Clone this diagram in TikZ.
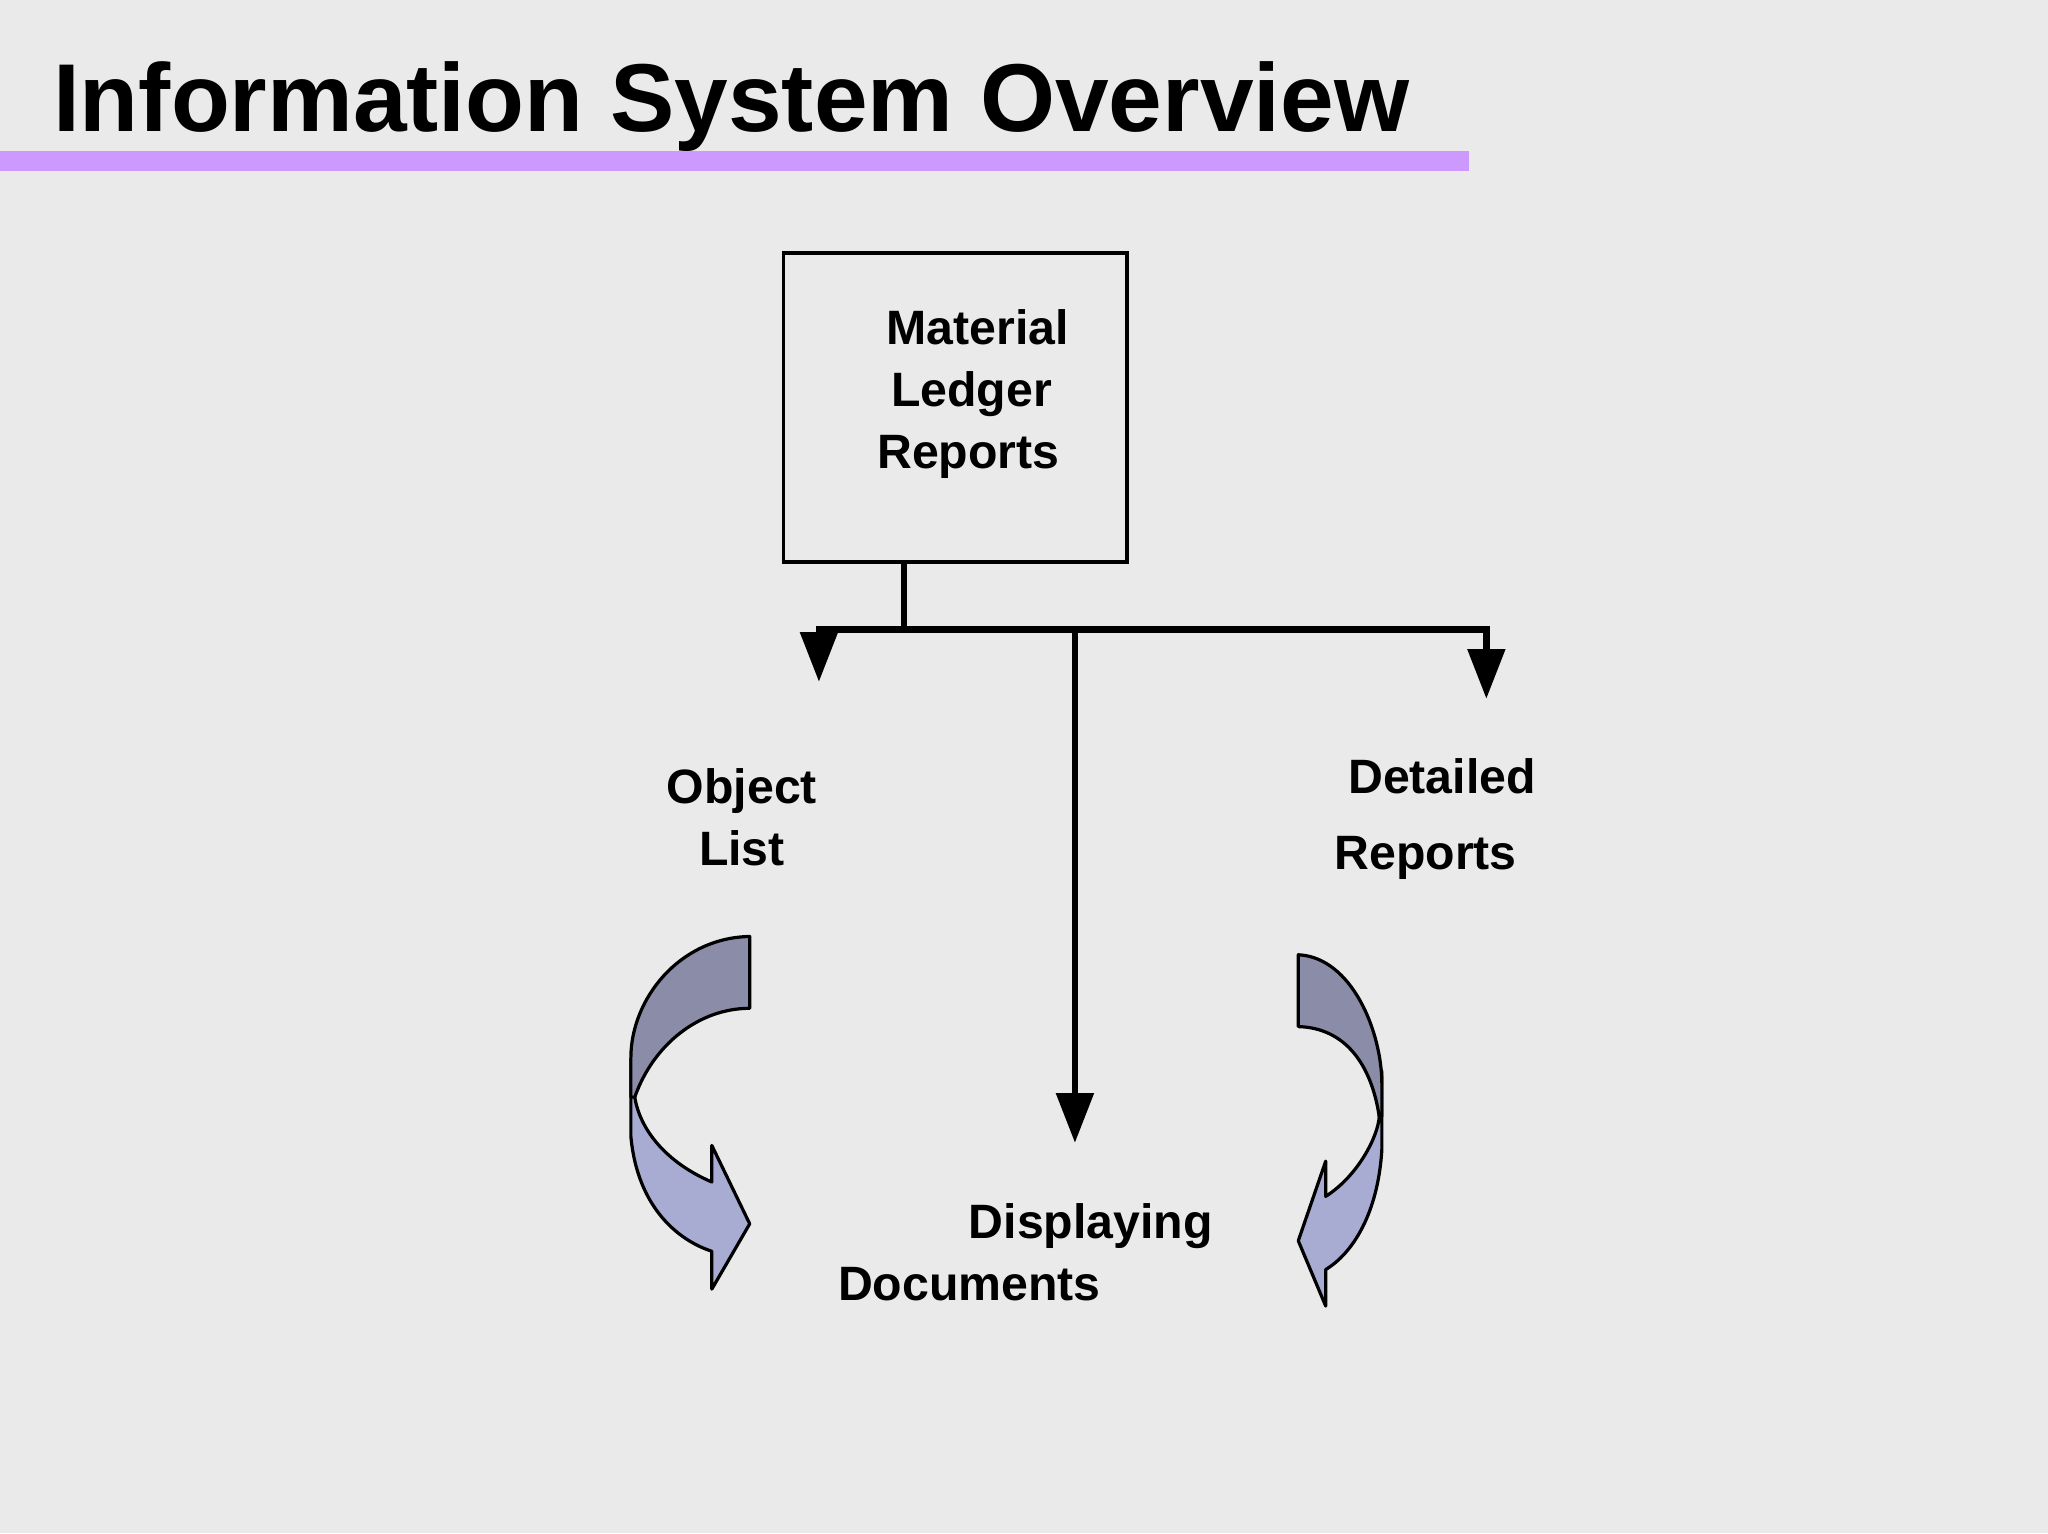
\documentclass[tikz,border=0pt]{standalone}
\usepackage{fontspec}
\setmainfont{Liberation Sans}
\usetikzlibrary{arrows.meta}
\definecolor{bg}{HTML}{EBEAEB}
\definecolor{bar}{HTML}{CC99FF}
\definecolor{darkband}{HTML}{8A8CA8}
\definecolor{lightband}{HTML}{A8ABD2}
\begin{document}
\begin{tikzpicture}[x=0.01cm,y=-0.01cm,
  lbl/.style={font=\bfseries\fontsize{10.5}{13.5}\selectfont,inner sep=0pt},
  conn/.style={line width=1.4pt},
  arr/.style={conn,-{Triangle[width=0.28cm,length=0.38cm]}},
  band/.style={draw=black,line width=0.7pt,line join=round}]
\fill[bg] (0,0) rectangle (1568,1174);
\useasboundingbox (0,0) rectangle (1568,1174);
\fill[bar] (0,116) rectangle (1125,131);
\node[anchor=base west,inner sep=0pt,font=\bfseries\fontsize{21}{24}\selectfont] (title) at (40,101) {Information System Overview};
\node[draw=black,line width=0.8pt,minimum width=2.63cm,minimum height=2.36cm,inner sep=0pt] (box) at (731.5,312) {};
\node[lbl,anchor=west,align=left] (mlr) at (671,302) {\hspace*{2pt}Material\\\hspace*{3pt}Ledger\\Reports};
\node[lbl,align=center] (obj) at (568,626) {Object\\List};
\node[lbl,anchor=west,align=left,font=\bfseries\fontsize{10.5}{16.5}\selectfont] (det) at (1021,627) {\hspace*{3pt}Detailed\\Reports};
\node[lbl,anchor=west,align=left] (disp) at (641,959) {\hspace*{1.4cm}\hspace*{-0.9cm}\hspace*{0.0cm}\makebox[0pt][l]{\hspace*{0.5cm}Displaying}\\Documents};
\coordinate (j) at (692,482);
\coordinate (jl) at (627,482);
\coordinate (jr) at (1138,482);
\coordinate (jm) at (823,482);
\coordinate (tl) at (627,522);
\coordinate (tr) at (1138,535);
\coordinate (tm) at (823,875);
\draw[conn] (box.south -| j) -- (j);
\draw[conn] ([xshift=-0.7pt]jl) -- ([xshift=0.7pt]jr);
\draw[arr] (jl) -- (tl);
\draw[arr] (jr) -- (tr);
\draw[arr] (jm) -- (tm);
% left curved arrow
\draw[band,fill=lightband] (483,810) -- (483,870) .. controls (488,925) and (520,950) .. (545,958) -- (545,987) -- (574,937) -- (545,877) -- (545,905) .. controls (510,890) and (490,865) .. (486,840) -- (483,810);
\draw[band,fill=darkband] (574,717) .. controls (520,718) and (483,765) .. (483,810) -- (483,840) -- (486,840) .. controls (500,800) and (535,772) .. (574,772) -- cycle;
% right curved arrow
\draw[band,fill=lightband] (1058,820) -- (1058,880) .. controls (1055,930) and (1035,960) .. (1015,972) -- (1015,1000) -- (994,950) -- (1015,889) -- (1015,916) .. controls (1040,900) and (1055,870) .. (1056,855) -- cycle;
\draw[band,fill=darkband] (994,731) .. controls (1035,733) and (1058,790) .. (1058,830) -- (1058,855) -- (1056,855) .. controls (1050,815) and (1030,787) .. (994,786) -- cycle;
\end{tikzpicture}
\end{document}
